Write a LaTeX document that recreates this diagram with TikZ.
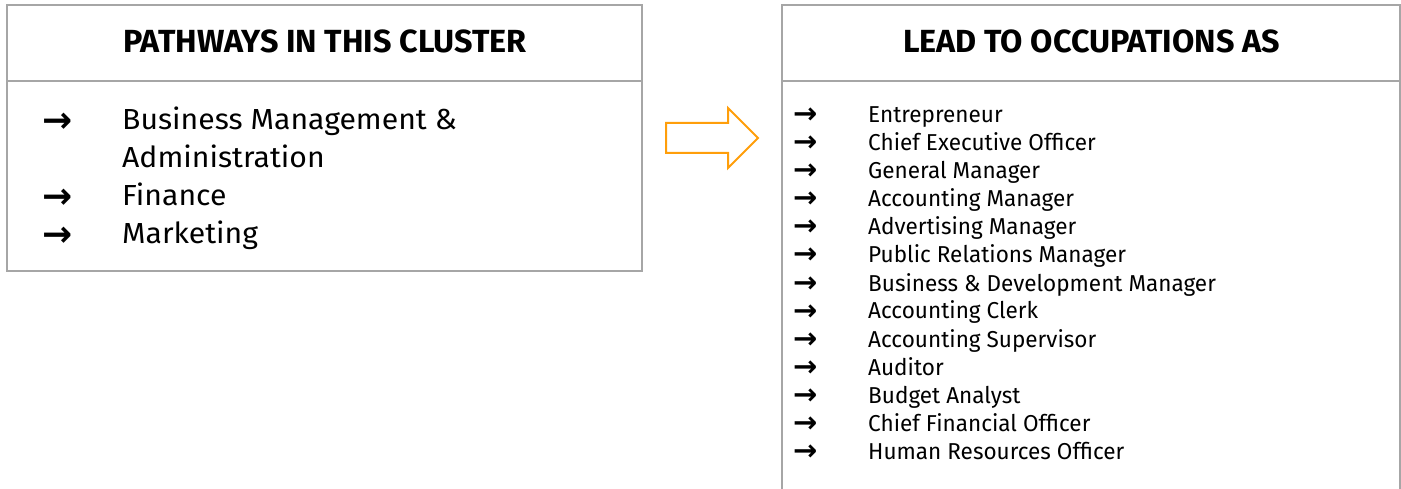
\documentclass[tikz,border=0pt]{standalone}
\usepackage{fontspec}
\setmainfont{Fira Sans}
\newfontfamily\bigfont{Fira Sans}[FakeStretch=1.04]
\newfontfamily\smallfont{Fira Sans}[FakeStretch=0.98]
\newfontfamily\headfont{Fira Sans}[FakeStretch=1.01]
\newfontfamily\arrowfont{DejaVu Sans}
\definecolor{boxgray}{HTML}{A6A6A6}
\definecolor{arrorange}{HTML}{FF9E0A}
\tikzset{
  panel/.style={draw=boxgray, line width=2pt},
  heading/.style={anchor=base, inner sep=0pt, font=\headfont\fontsize{32}{32}\selectfont\bfseries},
  bigitem/.style={anchor=base west, inner sep=0pt, font=\bigfont\fontsize{29}{29}\selectfont},
  smallitem/.style={anchor=base west, inner sep=0pt, font=\smallfont\fontsize{23}{23}\selectfont},
  bigbullet/.style={anchor=base west, inner sep=0pt, font=\arrowfont\bfseries\fontsize{36}{36}\selectfont},
  smallbullet/.style={anchor=base west, inner sep=0pt, font=\arrowfont\bfseries\fontsize{29}{29}\selectfont},
  bigarrow/.style={draw=arrorange, line width=2pt, line join=miter}
}
\begin{document}
\begin{tikzpicture}[x=1pt, y=-1pt]
\useasboundingbox (0,0) rectangle (1401,489);
% left panel
\draw[panel] (7,5) rectangle (642,271);
\draw[panel] (7,81) -- (642,81);
\node[heading] (lhead) at (325,53) {PATHWAYS IN THIS CLUSTER};
\foreach \y/\t/\n in {130/{Business Management \&}/a, 168/{Administration}/b, 206/{Finance}/c, 244/{Marketing}/d} {
  \node[bigitem] (l\n) at (122,\y) {\t};
}
\foreach \y/\n in {133/a, 209/c, 247/d} {
  \node[bigbullet] (lb\n) at (42,\y) {→};
}
% orange arrow
\draw[bigarrow] (666,123) -- (728,123) -- (728,108) -- (758,138) -- (728,168) -- (728,153) -- (666,153) -- cycle;
% right panel
\draw[panel] (782,495) -- (782,5) -- (1400,5) -- (1400,495);
\draw[panel] (782,81) -- (1400,81);
\node[heading] (rhead) at (1091.5,53) {LEAD TO OCCUPATIONS AS};
\foreach \i/\t in {0/Entrepreneur, 1/Chief Executive Officer, 2/General Manager, 3/Accounting Manager, 4/Advertising Manager, 5/Public Relations Manager, 6/Business \& Development Manager, 7/Accounting Clerk, 8/Accounting Supervisor, 9/Auditor, 10/Budget Analyst, 11/Chief Financial Officer, 12/Human Resources Officer} {
  \node[smallitem] (r\i) at (868,123+28*\i) {\t};
  \node[smallbullet] (rb\i) at (793,124+28*\i) {→};
}
\end{tikzpicture}
\end{document}
